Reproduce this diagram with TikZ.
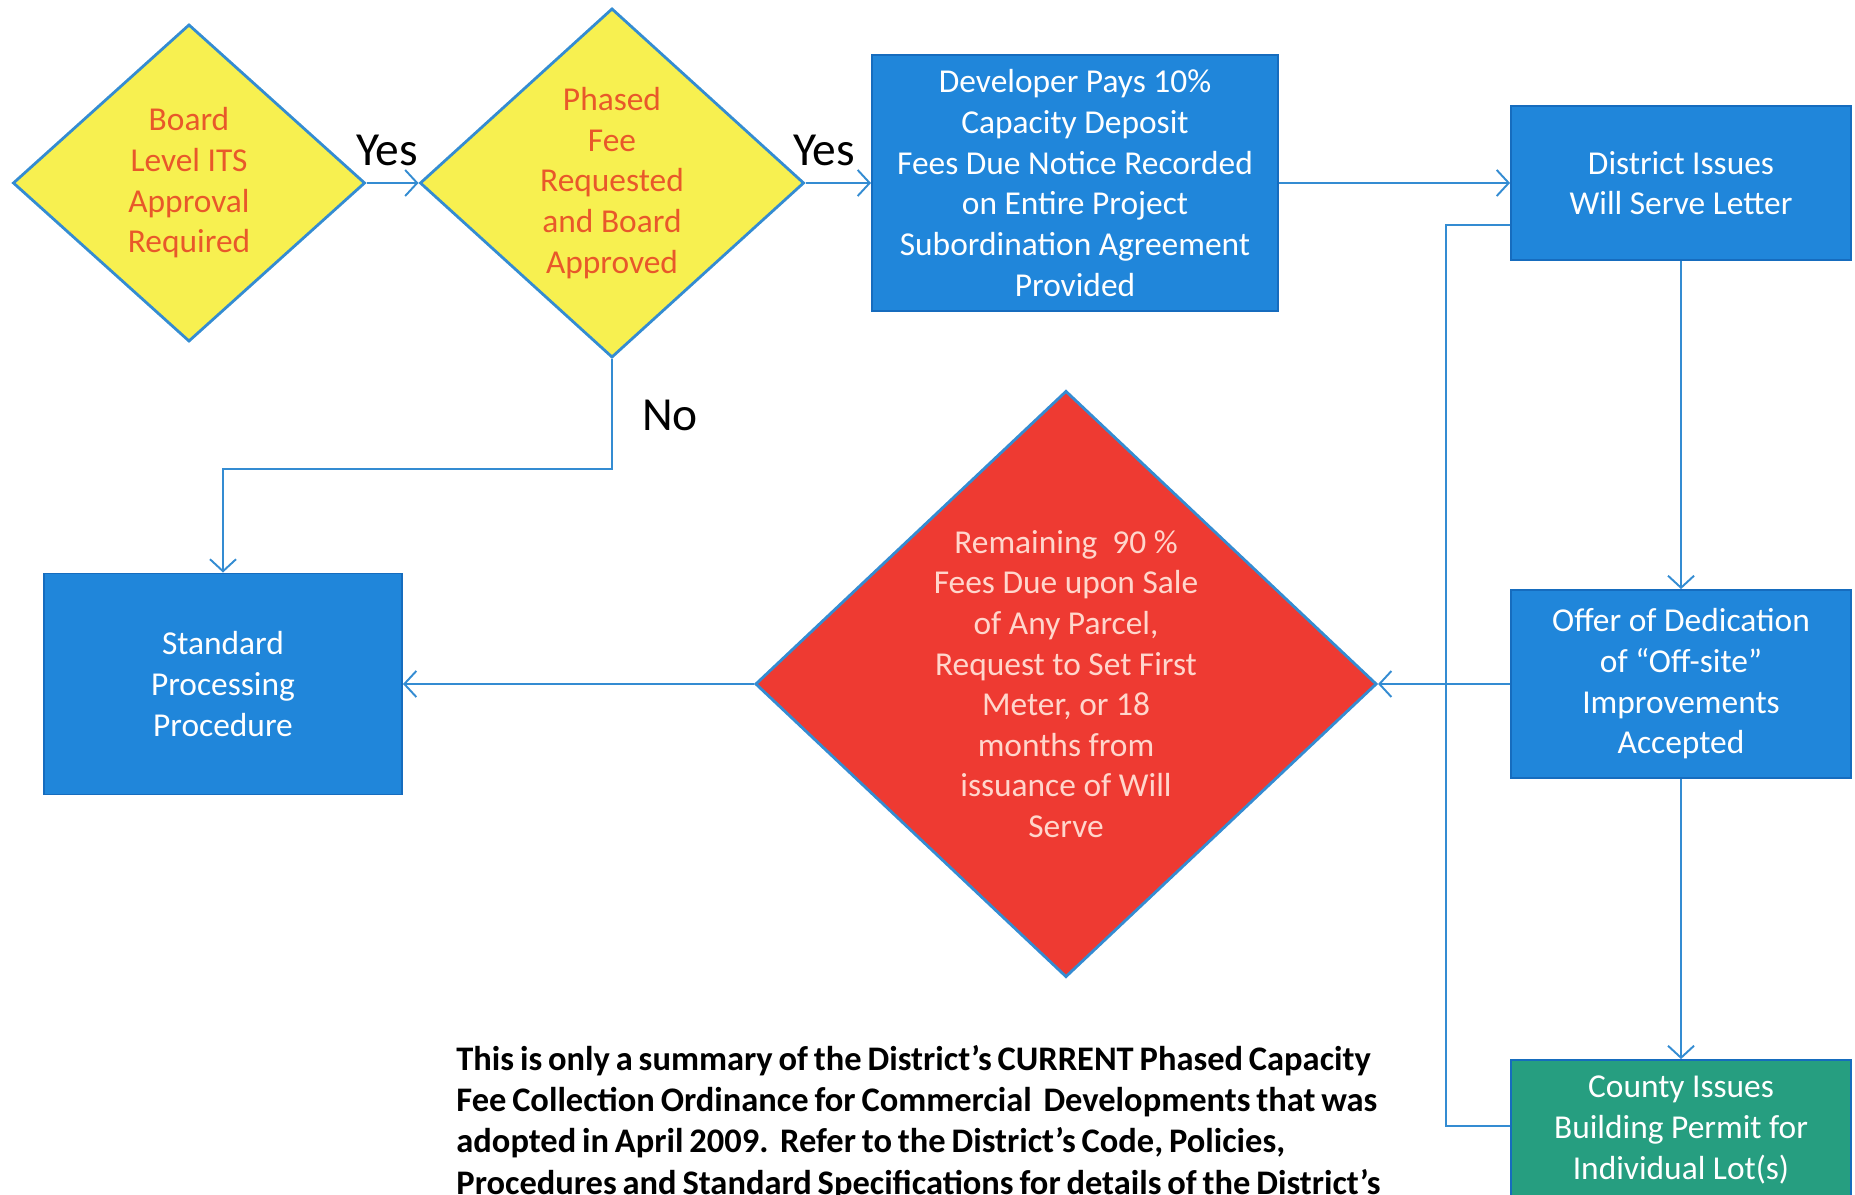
\documentclass[tikz,border=0pt]{standalone}
\usepackage{fontspec}
\setmainfont{Carlito}
\usetikzlibrary{shapes.geometric,arrows.meta}
\definecolor{decyellow}{RGB}{247,240,80}
\definecolor{dectext}{RGB}{232,88,42}
\definecolor{boxblue}{RGB}{32,134,218}
\definecolor{boxedge}{RGB}{22,108,190}
\definecolor{feered}{RGB}{238,58,50}
\definecolor{feetext}{RGB}{255,214,204}
\definecolor{permitgreen}{RGB}{38,158,128}
\definecolor{linkblue}{RGB}{52,140,210}
\begin{document}
\begin{tikzpicture}[x=0.01cm,y=-0.01cm,
  dec/.style={diamond,draw=linkblue,line width=0.8pt,fill=decyellow,text=dectext,inner sep=0pt,align=center,font=\fontsize{9.5}{11.55}\selectfont},
  proc/.style={rectangle,draw=boxedge,line width=0.5pt,fill=boxblue,text=white,inner sep=0pt,align=center,font=\fontsize{9.5}{11.55}\selectfont},
  conn/.style={draw=linkblue,line width=0.55pt,-{Straight Barb[length=1.2mm,width=2.6mm]}},
  lab/.style={font=\fontsize{13.5}{15}\selectfont}]
\useasboundingbox (0,0) rectangle (1855,1195);
\clip (0,0) rectangle (1855,1195);
% decisions along the top
\node[dec,minimum width=3.52cm,minimum height=3.17cm] (its) at (189,183) {Board\\Level ITS\\Approval\\Required};
\node[dec,minimum width=3.84cm,minimum height=3.49cm] (phased) at (612,183) {Phased\\Fee\\Requested\\and Board\\Approved};
\node[proc,minimum width=4.06cm,minimum height=2.56cm] (deposit) at (1075,183) {Developer Pays 10\%\\Capacity Deposit\\Fees Due Notice Recorded\\on Entire Project\\Subordination Agreement\\Provided};
\node[proc,minimum width=3.4cm,minimum height=1.54cm] (willserve) at (1681,183) {District Issues\\Will Serve Letter};
% right column
\node[proc,minimum width=3.4cm,minimum height=1.88cm] (offsite) at (1681,684) {Offer of Dedication\\of “Off-site”\\Improvements\\Accepted};
\node[proc,fill=permitgreen,minimum width=3.4cm,minimum height=1.4cm] (permit) at (1681,1130) {County Issues\\Building Permit for\\Individual Lot(s)};
% middle row
\node[dec,fill=feered,text=feetext,minimum width=6.21cm,minimum height=5.86cm] (remaining) at (1066,684) {Remaining~ 90 \%\\Fees Due upon Sale\\of Any Parcel,\\Request to Set First\\Meter, or 18\\months from\\issuance of Will\\Serve};
\node[proc,minimum width=3.58cm,minimum height=2.21cm] (standard) at (223,684) {Standard\\Processing\\Procedure};
% labels
\node[lab] (yesa) at (387,150) {Yes};
\node[lab] (yesb) at (824,150) {Yes};
\node[lab] (no) at (670,415) {No};
% connectors
\draw[conn] (its.east) -- (phased.west);
\draw[conn] (phased.east) -- (deposit.west);
\draw[conn] (deposit.east) -- (willserve.west);
\draw[conn] (willserve.south) -- (offsite.north);
\draw[conn] (offsite.south) -- (permit.north);
\draw[conn] (offsite.west) -- (remaining.east);
\draw[conn] (remaining.west) -- (standard.east);
\draw[conn] (phased.south) -- ++(0,110) -| (standard.north);
\coordinate (loopbot) at (1446,1126);
\coordinate (looptop) at (1446,225);
\draw[draw=linkblue,line width=0.55pt] (permit.west |- loopbot) -- (loopbot) -- (looptop) -- (willserve.west |- looptop);
% note
\node[anchor=base west,text width=11.5cm,align=left,font=\bfseries\fontsize{9.8}{11.8}\selectfont] (note) at (444,1070) {\spaceskip=0.17em plus 0.05em This is only a summary of the District’s CURRENT Phased Capacity\\Fee Collection Ordinance for Commercial\ \ Developments that was\\adopted in April 2009.\ \ Refer to the District’s Code, Policies,\\Procedures and Standard Specifications for details of the District’s};
\end{tikzpicture}
\end{document}
